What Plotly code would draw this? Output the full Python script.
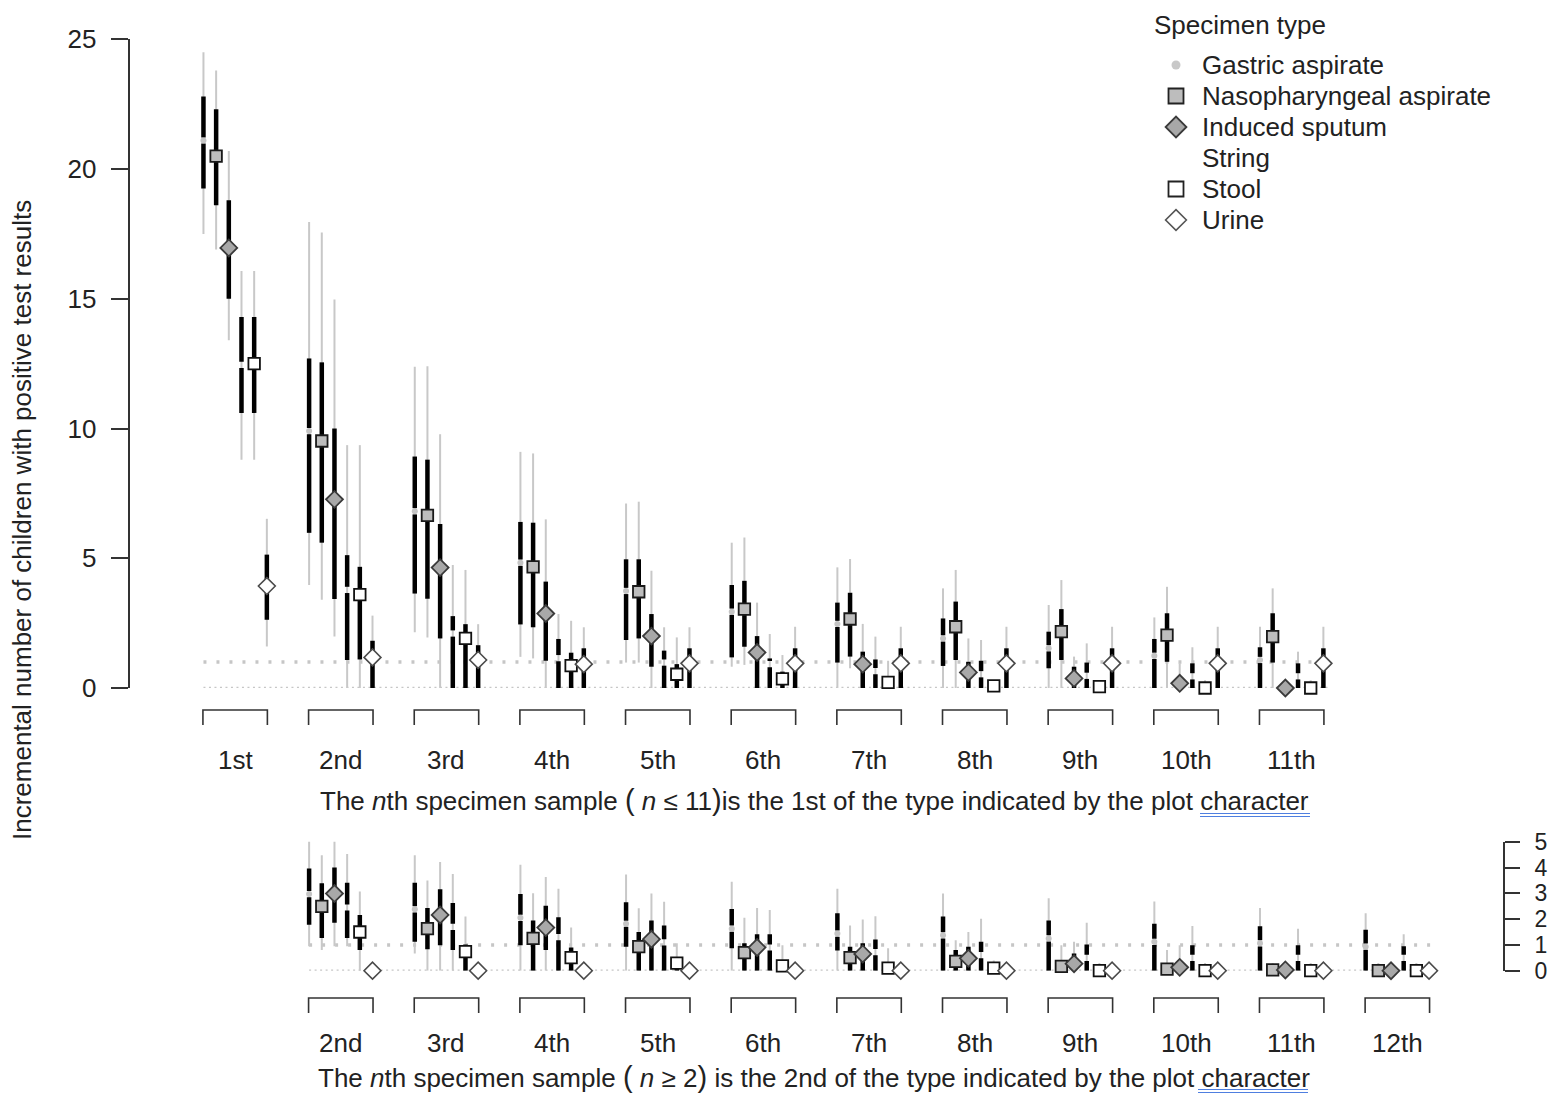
import plotly.graph_objects as go

# page body has an 8px margin; the figure is sized so that it reaches the window's right and bottom edges
OFF = 8
W, H = 1562 - OFF, 1095 - OFF
FONT = "Liberation Sans, Arial, sans-serif"
TXT = "#222222"

specimens = ["Gastric aspirate", "Nasopharyngeal aspirate", "Induced sputum",
             "String", "Stool", "Urine"]

top_groups = list(range(1, 12))
top_labels = ["1st", "2nd", "3rd", "4th", "5th", "6th", "7th", "8th", "9th", "10th", "11th"]
bot_groups = list(range(2, 13))
bot_labels = ["2nd", "3rd", "4th", "5th", "6th", "7th", "8th", "9th", "10th", "11th", "12th"]

# each entry: (lower 95%, lower 50%, median, upper 50%, upper 95%)
top_gastric = [(17.5, 19.25, 21.1, 22.8, 24.5), (3.97, 5.98, 9.9, 12.7, 17.96),
               (2.15, 3.64, 6.81, 8.92, 12.38), (1.2, 2.45, 4.83, 6.4, 9.1),
               (0.98, 1.85, 3.74, 4.96, 7.11), (0.82, 1.18, 2.94, 3.97, 5.6),
               (0, 0.98, 2.47, 3.29, 4.65), (0, 0.85, 1.91, 2.68, 3.84),
               (0, 0.76, 1.53, 2.17, 3.2), (0, 0, 1.24, 1.89, 2.72),
               (0, 0, 1.08, 1.57, 2.36)]
top_npa = [(16.9, 18.6, 20.5, 22.3, 23.8), (3.4, 5.6, 9.52, 12.55, 17.55),
           (1.95, 3.44, 6.65, 8.8, 12.4), (1.14, 2.34, 4.67, 6.37, 9.04),
           (0.98, 1.91, 3.71, 4.96, 7.18), (0.89, 1.59, 3.04, 4.13, 5.8),
           (0.76, 1.21, 2.66, 3.67, 4.97), (0, 1.08, 2.36, 3.33, 4.55),
           (0, 1.08, 2.17, 3.04, 4.16), (0, 1.01, 2.04, 2.88, 3.9),
           (0, 0.98, 1.98, 2.88, 3.84)]
top_sputum = [(13.4, 15.0, 16.96, 18.8, 20.7), (1.98, 3.43, 7.27, 10.0, 14.97),
              (0, 1.91, 4.64, 6.32, 9.78), (0, 1.05, 2.87, 4.1, 6.5),
              (0, 0.82, 2.0, 2.85, 4.52), (0, 0, 1.37, 2.0, 3.29),
              (0, 0, 0.92, 1.4, 2.47), (0, 0, 0.6, 1.01, 1.91),
              (0, 0, 0.37, 0.82, 1.21), (0, 0, 0.18, 0.45, 0.95),
              (0, 0, 0, 0, 0)]
top_string = [(8.8, 10.6, 12.45, 14.3, 16.07), (0, 1.08, 3.78, 5.12, 9.36),
              (0, 0, 2.1, 2.77, 4.74), (0, 0, 1.15, 1.89, 2.85),
              (0, 0, 0.98, 1.44, 2.34), (0, 0, 0.92, 1.14, 2.08),
              (0, 0, 0.65, 1.1, 1.98), (0, 0, 0.53, 1.05, 1.85),
              (0, 0, 0.47, 0.98, 1.72), (0, 0, 0.45, 0.95, 1.57),
              (0, 0, 0.45, 0.95, 1.4)]
top_stool = [(8.8, 10.6, 12.5, 14.3, 16.07), (0, 1.1, 3.6, 4.67, 9.36),
             (0, 0, 1.91, 2.46, 4.55), (0, 0, 0.86, 1.36, 2.59),
             (0, 0, 0.53, 0.92, 1.95), (0, 0, 0.35, 0.63, 1.27),
             (0, 0, 0.22, 0.35, 1.05), (0, 0, 0.08, 0.2, 0.3),
             (0, 0, 0.05, 0.15, 0.3), (0, 0, 0, 0.1, 0.3),
             (0, 0, 0, 0.1, 0.3)]
top_urine = [(1.6, 2.63, 3.93, 5.14, 6.52), (0, 0, 1.18, 1.82, 2.79),
             (0, 0, 1.08, 1.65, 2.46), (0, 0, 0.92, 1.53, 2.34),
             (0, 0, 0.95, 1.53, 2.34), (0, 0, 0.95, 1.53, 2.36),
             (0, 0, 0.95, 1.53, 2.36), (0, 0, 0.95, 1.53, 2.36),
             (0, 0, 0.95, 1.53, 2.36), (0, 0, 0.95, 1.53, 2.36),
             (0, 0, 0.95, 1.53, 2.36)]

bot_gastric = [(0.95, 1.78, 2.97, 3.96, 5.1), (0.67, 1.12, 2.38, 3.41, 4.47),
               (0, 0.99, 2.05, 2.97, 4.11), (0, 0.93, 1.82, 2.65, 3.73),
               (0, 0.87, 1.63, 2.39, 3.45), (0, 0.78, 1.44, 2.23, 3.18),
               (0, 0, 1.37, 2.1, 2.99), (0, 0, 1.25, 1.95, 2.81),
               (0, 0, 1.12, 1.82, 2.68), (0, 0, 1.06, 1.72, 2.43),
               (0, 0, 0.93, 1.59, 2.23)]
bot_npa = [(0.8, 1.27, 2.49, 3.39, 4.47), (0, 0.83, 1.63, 2.43, 3.5),
           (0, 0, 1.25, 1.95, 3.0), (0, 0, 0.93, 1.5, 2.42),
           (0, 0, 0.7, 1.06, 2.05), (0, 0, 0.51, 0.93, 1.75),
           (0, 0, 0.36, 0.8, 1.18), (0, 0, 0.17, 0.4, 0.99),
           (0, 0, 0.06, 0.2, 0.8), (0, 0, 0.03, 0.1, 0.3),
           (0, 0, 0, 0.1, 0.3)]
bot_sputum = [(0.95, 1.86, 2.99, 4.0, 5.1), (0, 0.99, 2.16, 3.16, 4.21),
              (0, 0.8, 1.67, 2.52, 3.63), (0, 0, 1.22, 1.95, 2.99),
              (0, 0, 0.9, 1.41, 2.43), (0, 0, 0.65, 1.06, 1.98),
              (0, 0, 0.48, 0.93, 1.5), (0, 0, 0.27, 0.67, 1.12),
              (0, 0, 0.13, 0.4, 0.99), (0, 0, 0.03, 0.1, 0.3),
              (0, 0, 0, 0.1, 0.3)]
bot_string = [(0.95, 1.27, 2.45, 3.41, 4.52), (0, 0.8, 1.7, 2.62, 3.75),
              (0, 0, 1.3, 2.07, 3.18), (0, 0, 1.1, 1.75, 2.67),
              (0, 0, 0.9, 1.41, 2.35), (0, 0, 0.72, 1.21, 2.11),
              (0, 0, 0.6, 1.12, 2.01), (0, 0, 0.5, 1.02, 1.86),
              (0, 0, 0.5, 0.99, 1.73), (0, 0, 0.5, 0.99, 1.63),
              (0, 0, 0.5, 0.95, 1.41)]
bot_stool = [(0, 0.8, 1.5, 2.16, 3.07), (0, 0, 0.74, 1.02, 2.1),
             (0, 0, 0.51, 0.9, 1.67), (0, 0, 0.29, 0.5, 1.06),
             (0, 0, 0.19, 0.35, 0.99), (0, 0, 0.1, 0.3, 0.87),
             (0, 0, 0.1, 0.2, 0.4), (0, 0, 0, 0.1, 0.3),
             (0, 0, 0, 0.1, 0.3), (0, 0, 0, 0.1, 0.3),
             (0, 0, 0, 0.1, 0.3)]
bot_urine = [(0, 0, 0, 0, 0)] * 11

top_ticks = [0, 5, 10, 15, 20, 25]
bot_ticks = [0, 1, 2, 3, 4, 5]

PAREN_L = "<span style='font-size:29px'>(</span>"
PAREN_R = "<span style='font-size:29px'>)</span>"
top_title = ("The <i>n</i>th specimen sample " + PAREN_L + " <i>n</i> \u2264 11" + PAREN_R +
             "is the 1st of the type indicated by the plot character")
bot_title = ("The <i>n</i>th specimen sample " + PAREN_L + " <i>n</i> \u2265 2" + PAREN_R +
             " is the 2nd of the type indicated by the plot character")
y_title = "Incremental number of children with positive test results"
legend_title = "Specimen type"


# ---------------------------------------------------------------- helpers (window pixels -> paper)
def py(p):
    return 1 - (p - OFF) / H


def px(p):
    return (p - OFF) / W


X_DOM = [px(129.5), px(1503)]
Y_TOP_DOM = [py(688), py(39.3)]
Y_BOT_DOM = [py(970.7), py(841.7)]
OFFSETS = [-0.30, -0.18, -0.06, 0.06, 0.18, 0.30]
GAP = 0.12

marker_styles = [
    dict(symbol="circle", size=6, color="#c4c4c4", line=dict(width=0)),
    dict(symbol="square", size=11.5, color="#bdbdbd", line=dict(color="#1a1a1a", width=1.8)),
    dict(symbol="diamond", size=13, color="#a8a8a8", line=dict(color="#3a3a3a", width=1.8)),
    None,
    dict(symbol="square", size=11.5, color="#ffffff", line=dict(color="#111111", width=1.8)),
    dict(symbol="diamond", size=13, color="#ffffff", line=dict(color="#4a4a4a", width=1.6)),
]
legend_styles = [
    dict(symbol="circle", size=9, color="#c8c8c8", line=dict(width=0)),
    dict(symbol="square", size=15, color="#bdbdbd", line=dict(color="#222222", width=1.8)),
    dict(symbol="diamond", size=16, color="#a8a8a8", line=dict(color="#3a3a3a", width=1.8)),
    None,
    dict(symbol="square", size=15, color="#ffffff", line=dict(color="#222222", width=1.8)),
    dict(symbol="diamond", size=16, color="#ffffff", line=dict(color="#555555", width=1.6)),
]

fig = go.Figure()
shapes = []
annotations = []


def add_panel(groups, labels, series, xa, ya, y_bracket, y_label):
    x0 = groups[0] + OFFSETS[0]
    x1 = groups[-1] + 0.36
    fig.add_trace(go.Scatter(x=[x0, x1], y=[1, 1], mode="lines",
                             line=dict(color="#c6c6c6", width=3.5, dash="3px,10px"),
                             xaxis=xa, yaxis=ya, hoverinfo="skip", showlegend=False))
    fig.add_trace(go.Scatter(x=[x0, x1], y=[0, 0], mode="lines",
                             line=dict(color="#c6c6c6", width=2.5, dash="2px,3.5px"),
                             xaxis=xa, yaxis=ya, hoverinfo="skip", showlegend=False))
    gx, gy, bx, by = [], [], [], []
    for k, vals in enumerate(series):
        for g, (lo95, lo50, med, hi50, hi95) in zip(groups, vals):
            x = g + OFFSETS[k]
            if hi95 > lo95:
                gx += [x, x, None]
                gy += [lo95, hi95, None]
            if med - GAP > lo50:
                bx += [x, x, None]
                by += [lo50, med - GAP, None]
            if hi50 > med + GAP:
                bx += [x, x, None]
                by += [med + GAP, hi50, None]
    fig.add_trace(go.Scatter(x=gx, y=gy, mode="lines", line=dict(color="#c8c8c8", width=2),
                             xaxis=xa, yaxis=ya, hoverinfo="skip", showlegend=False))
    fig.add_trace(go.Scatter(x=bx, y=by, mode="lines", line=dict(color="#000000", width=4.5),
                             xaxis=xa, yaxis=ya, hoverinfo="skip", showlegend=False))
    for k, vals in enumerate(series):
        st = marker_styles[k]
        if st is None:
            continue
        fig.add_trace(go.Scatter(x=[g + OFFSETS[k] for g in groups],
                                 y=[v[2] for v in vals], mode="markers",
                                 marker=st, cliponaxis=False, name=specimens[k],
                                 xaxis=xa, yaxis=ya, showlegend=False))
    for g, lab in zip(groups, labels):
        a, b = g - 0.305, g + 0.305
        shapes.append(dict(type="path", xref=xa, yref="paper",
                           path=f"M {a},{py(y_bracket + 15)} L {a},{py(y_bracket)} "
                                f"L {b},{py(y_bracket)} L {b},{py(y_bracket + 15)}",
                           line=dict(color="#333333", width=1.6)))
        annotations.append(dict(x=g, y=py(y_label), xref=xa, yref="paper", text=lab,
                                showarrow=False, xanchor="center", yanchor="middle",
                                font=dict(size=26, color=TXT, family=FONT)))


add_panel(top_groups, top_labels,
          [top_gastric, top_npa, top_sputum, top_string, top_stool, top_urine],
          "x", "y", 710, 760)
add_panel(bot_groups, bot_labels,
          [bot_gastric, bot_npa, bot_sputum, bot_string, bot_stool, bot_urine],
          "x2", "y2", 998, 1043)

# legend (symbols on an overlay axis measured in window pixels)
LEG_X, LEG_TEXT_X, LEG_Y0, LEG_DY = 1176, 1200, 65, 31
for i, name in enumerate(specimens):
    st = legend_styles[i]
    ry = LEG_Y0 + LEG_DY * i
    if st is not None:
        fig.add_trace(go.Scatter(x=[LEG_X], y=[ry], mode="markers", marker=st,
                                 xaxis="x3", yaxis="y3", hoverinfo="skip",
                                 showlegend=False, cliponaxis=False))
    annotations.append(dict(x=px(LEG_TEXT_X), y=py(ry), xref="paper", yref="paper",
                            text=name, showarrow=False, xanchor="left", yanchor="middle",
                            font=dict(size=26, color=TXT, family=FONT)))
annotations.append(dict(x=px(1152), y=py(25), xref="paper", yref="paper",
                        text=legend_title, showarrow=False, xanchor="left", yanchor="middle",
                        font=dict(size=26, color=TXT, family=FONT)))

annotations.append(dict(x=px(814), y=py(800), xref="paper", yref="paper", text=top_title,
                        showarrow=False, xanchor="center", yanchor="middle",
                        font=dict(size=26, color=TXT, family=FONT)))
annotations.append(dict(x=px(814), y=py(1077), xref="paper", yref="paper", text=bot_title,
                        showarrow=False, xanchor="center", yanchor="middle",
                        font=dict(size=26, color=TXT, family=FONT)))
annotations.append(dict(x=px(22), y=py(520), xref="paper", yref="paper", text=y_title,
                        showarrow=False, textangle=-90, xanchor="center", yanchor="middle",
                        font=dict(size=26, color=TXT, family=FONT)))

# double blue underline under "character"
for (xa_, xb_, yy) in [(1200, 1310, 813.5), (1200, 1310, 816.5),
                       (1198, 1308, 1089.5), (1198, 1308, 1092.5)]:
    shapes.append(dict(type="line", xref="paper", yref="paper", x0=px(xa_), x1=px(xb_),
                       y0=py(yy), y1=py(yy), line=dict(color="#4f7fe0", width=1.2)))

axis_common = dict(showgrid=False, zeroline=False, showline=True, linecolor="#333333",
                   linewidth=1.6, ticks="outside", tickcolor="#333333", tickwidth=1.6,
                   automargin=False, fixedrange=True)

fig.update_layout(
    template="none",
    width=W, height=H, autosize=False,
    margin=dict(l=0, r=0, t=0, b=0, pad=0, autoexpand=False),
    paper_bgcolor="white", plot_bgcolor="rgba(0,0,0,0)",
    showlegend=False,
    font=dict(family=FONT, size=26, color=TXT),
    xaxis=dict(domain=X_DOM, range=[0, 13], visible=False, anchor="y", automargin=False),
    yaxis=dict(domain=Y_TOP_DOM, range=[0, 25], tickvals=top_ticks, side="left",
               anchor="x", ticklen=17, ticklabelstandoff=9,
               tickfont=dict(size=26, color=TXT, family=FONT), **axis_common),
    xaxis2=dict(domain=X_DOM, range=[0, 13], visible=False, anchor="y2", matches="x",
                automargin=False),
    yaxis2=dict(domain=Y_BOT_DOM, range=[0, 5], tickvals=bot_ticks, side="right",
                anchor="x2", ticklen=15, ticklabelstandoff=10,
                tickfont=dict(size=23, color=TXT, family=FONT), **axis_common),
    xaxis3=dict(domain=[0, 1], range=[OFF, OFF + W], visible=False, anchor="y3",
                automargin=False),
    yaxis3=dict(domain=[0, 1], range=[OFF + H, OFF], visible=False, anchor="x3",
                automargin=False),
    shapes=shapes,
    annotations=annotations,
)

fig.write_html("out.html")
